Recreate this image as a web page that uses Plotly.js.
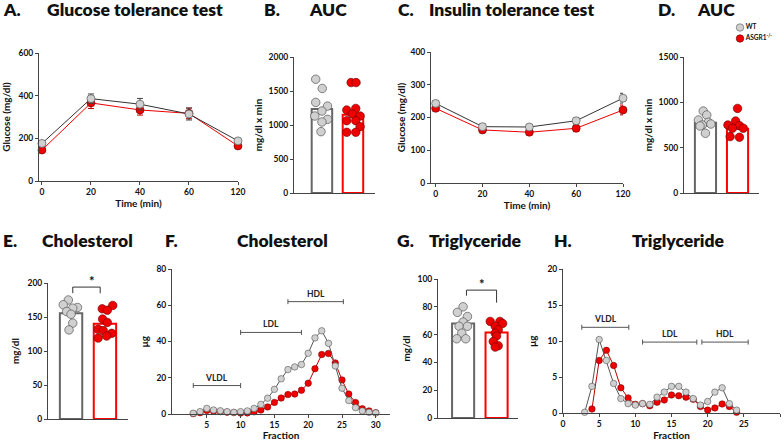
<!DOCTYPE html>
<html>
<head>
<meta charset="utf-8">
<script src="https://cdn.plot.ly/plotly-3.0.1.min.js"></script>
<style>html,body{margin:0;padding:0;background:#fff}#chart{width:784px;height:441px}</style>
</head>
<body>
<div id="chart"></div>
<script>
// ---------------- DATA ----------------
const groups = ['WT', 'ASGR1<sup>-/-</sup>'];
const times = ['0', '20', '40', '60', '120'];

const gttWt = [176, 386, 360, 314, 188];
const gttWtErr = [10, 22, 27, 28, 10];
const gttKo = [145, 366, 333, 317, 164];
const gttKoErr = [10, 26, 24, 25, 10];

const ittWt = [243, 172, 171, 190, 259];
const ittWtErr = [8, 8, 8, 8, 15];
const ittKo = [228, 162, 155, 167, 223];
const ittKoErr = [8, 8, 8, 10, 15];

const gttAucMean = [1234, 1150];
const gttAucWt = [1673, 1537, 1332, 1278, 1205, 1132, 1083, 1044, 902];
const gttAucWtJit = [-0.2, 0.01, -0.2, 0.18, 0, -0.23, 0.18, 0, -0.03];
const gttAucKo = [1624, 1624, 1244, 1220, 1161, 1132, 1063, 1063, 976, 893, 893];
const gttAucKoJit = [-0.06, 0.1, 0.09, -0.2, -0.02, 0.23, -0.2, 0.09, 0.23, -0.2, 0.09];

const ittAucMean = [776, 710];
const ittAucWt = [904, 860, 805, 780, 750, 761, 739, 659];
const ittAucWtJit = [-0.07, 0.04, -0.22, 0.09, -0.1, 0.17, -0.17, 0];
const ittAucKo = [933, 794, 750, 743, 714, 714, 622, 615];
const ittAucKoJit = [0, -0.06, -0.3, 0.06, 0.18, -0.16, -0.23, 0.06];

const cholMean = [155.5, 140];
const cholWt = [175, 168, 164, 163, 158, 154, 141, 131];
const cholWtJit = [-0.08, -0.23, 0.19, 0.05, -0.13, 0, 0.05, -0.06];
const cholKo = [167, 162, 160, 147, 142, 132, 130, 126, 122, 119];
const cholKoJit = [0.23, -0.08, 0.07, -0.07, 0.07, -0.2, -0.05, 0.2, 0.05, -0.2];

const tgMean = [68, 61.5];
const tgWt = [80, 76, 73, 69, 66, 66, 61, 57, 57];
const tgWtJit = [0, -0.17, 0.13, 0, -0.12, 0.13, -0.04, -0.19, 0.08];
const tgKo = [69.5, 69.5, 68, 66, 63.5, 61, 59, 55, 52, 51];
const tgKoJit = [-0.19, 0.1, 0.18, -0.04, 0.05, -0.04, 0, -0.1, 0.05, -0.04];

const cholFrac = [3,4,5,6,7,8,9,10,11,12,13,14,15,16,17,18,19,20,21,22,23,24,25,26,27,28,29,30];
const cholFracWt = [0.4,1.3,3.1,2.2,1.8,1.3,0.9,1.3,1.7,3.1,5.3,8.7,13.6,19.4,24.5,26,27.3,33.5,42,45.9,39,26.5,14.2,7.4,3.5,1.7,0.9,0.6];
const cholFracKo = [0.2,0.7,1.9,1.5,1.3,1.0,0.8,0.5,0.6,1.2,2.2,3.9,6.4,8.8,10.7,11,13.1,17,25,32.8,33.4,28.2,18.8,11,6.3,2.9,1.7,0.7];

const tgFracWtX = [3,4,5,6,7,8,9,10,11,12,13,14,15,16,17,18,19,20,21,22,23,24];
const tgFracWt = [0.1,3.7,10.2,7.3,4.1,2.0,1.3,1.1,1.3,1.2,2.2,2.9,3.7,3.7,2.9,2.0,1.1,1.6,2.9,3.5,1.3,0.4];
const tgFracKoX = [4,5,6,7,8,9,10,11,12,13,14,15,16,17,18,19,20,21,22,23,24];
const tgFracKo = [0.55,7.3,8.7,6.6,3.5,2.1,1.2,1.3,1.0,1.5,1.8,2.5,2.4,2.2,1.9,0.9,0.4,0.7,1.25,0.9,0.1];

const lipoLabels = ['VLDL', 'LDL', 'HDL'];
const cholRangeStart = [3, 10, 17];
const cholRangeEnd = [10, 19, 25.2];
const cholRangeLevel = [15.7, 45, 62];
const tgRangeStart = [2.6, 11, 19.2];
const tgRangeEnd = [9.1, 18.5, 25.6];
const tgRangeLevel = [11.9, 9.85, 9.85];

const panelLetters = ['A.', 'B.', 'C.', 'D.', 'E.', 'F.', 'G.', 'H.'];
const panelTitles = ['Glucose tolerance test', 'AUC', 'Insulin tolerance test', 'AUC',
                     'Cholesterol', 'Cholesterol', 'Triglyceride', 'Triglyceride'];

// ---------------- STYLE / LAYOUT ----------------
const W = 784, H = 441;
const FONT = 'Lato, "Open Sans", sans-serif';
const GREY = '#d0d0d0', GREY_LINE = '#555', RED = '#ee0000', RED_LINE = '#6a0000';
function xd(a, b) { return [a / W, b / W]; }
function yd(top, bot) { return [1 - bot / H, 1 - top / H]; }

const tickFont = {family: FONT, size: 8.5, color: '#111', weight: 'bold'};
const titleFont = {family: FONT, size: 10, color: '#111', weight: 'bold'};
const headFont = {family: FONT, size: 17.5, color: '#111', weight: 800};
function ax(extra) {
  return Object.assign({
    showgrid: false, zeroline: false, showline: true, linecolor: '#444', linewidth: 1,
    ticks: 'outside', ticklen: 3, tickwidth: 1, tickcolor: '#444', tickfont: tickFont,
    fixedrange: true
  }, extra);
}

const traces = [];
function addTimeCourse(xa, ya, wt, wtErr, ko, koErr) {
  traces.push({x: times, y: ko, xaxis: xa, yaxis: ya, type: 'scatter', mode: 'lines+markers',
    name: groups[1], showlegend: false, cliponaxis: false,
    line: {color: RED, width: 1},
    marker: {color: RED, size: 8, line: {color: RED_LINE, width: 0.6}},
    error_y: {type: 'data', array: koErr, visible: true, color: '#b00', thickness: 1, width: 3}});
  traces.push({x: times, y: wt, xaxis: xa, yaxis: ya, type: 'scatter', mode: 'lines+markers',
    name: groups[0], showlegend: false, cliponaxis: false,
    line: {color: '#333', width: 1},
    marker: {color: GREY, size: 8, line: {color: GREY_LINE, width: 0.7}},
    error_y: {type: 'data', array: wtErr, visible: true, color: '#444', thickness: 1, width: 3}});
}
function addBarPanel(xa, ya, means, wt, wtJ, ko, koJ) {
  traces.push({x: [0], y: [means[0]], xaxis: xa, yaxis: ya, type: 'bar', width: 0.66,
    marker: {color: 'rgba(255,255,255,0)', line: {color: '#666', width: 2}}, showlegend: false, name: groups[0]});
  traces.push({x: [1], y: [means[1]], xaxis: xa, yaxis: ya, type: 'bar', width: 0.66,
    marker: {color: 'rgba(255,255,255,0)', line: {color: '#ff0000', width: 2}}, showlegend: false, name: groups[1]});
  traces.push({x: wtJ.map(j => 0 + j), y: wt, xaxis: xa, yaxis: ya, type: 'scatter', mode: 'markers',
    marker: {color: GREY, size: 8.5, line: {color: GREY_LINE, width: 0.7}}, showlegend: false, cliponaxis: false, name: groups[0]});
  traces.push({x: koJ.map(j => 1 + j), y: ko, xaxis: xa, yaxis: ya, type: 'scatter', mode: 'markers',
    marker: {color: RED, size: 8.5, line: {color: RED_LINE, width: 0.6}}, showlegend: false, cliponaxis: false, name: groups[1]});
}
function addProfile(xa, ya, wx, wy, kx, ky) {
  traces.push({x: kx, y: ky, xaxis: xa, yaxis: ya, type: 'scatter', mode: 'lines+markers', showlegend: false, cliponaxis: false,
    name: groups[1], line: {color: '#c00000', width: 1}, marker: {color: RED, size: 6.5, line: {color: RED_LINE, width: 0.5}}});
  traces.push({x: wx, y: wy, xaxis: xa, yaxis: ya, type: 'scatter', mode: 'lines+markers', showlegend: false, cliponaxis: false,
    name: groups[0], line: {color: '#555', width: 1}, marker: {color: GREY, size: 6.5, line: {color: GREY_LINE, width: 0.6}}});
}

addTimeCourse('x', 'y', gttWt, gttWtErr, gttKo, gttKoErr);
addBarPanel('x2', 'y2', gttAucMean, gttAucWt, gttAucWtJit, gttAucKo, gttAucKoJit);
addTimeCourse('x3', 'y3', ittWt, ittWtErr, ittKo, ittKoErr);
addBarPanel('x4', 'y4', ittAucMean, ittAucWt, ittAucWtJit, ittAucKo, ittAucKoJit);
addBarPanel('x5', 'y5', cholMean, cholWt, cholWtJit, cholKo, cholKoJit);
addProfile('x6', 'y6', cholFrac, cholFracWt, cholFrac, cholFracKo);
addBarPanel('x7', 'y7', tgMean, tgWt, tgWtJit, tgKo, tgKoJit);
addProfile('x8', 'y8', tgFracWtX, tgFracWt, tgFracKoX, tgFracKo);

// legend as markers + text
traces.push({x: [0, 0], y: [1, 0], xaxis: 'x9', yaxis: 'y9', type: 'scatter', mode: 'markers+text',
  text: groups, textposition: 'middle right', cliponaxis: false, showlegend: false,
  textfont: {family: FONT, size: 6.5, color: '#111', weight: 'bold'},
  marker: {color: [GREY, RED], size: 7.5, line: {color: [GREY_LINE, RED_LINE], width: 0.6}}});

const shapes = [];
const annotations = [];
function addRanges(xa, ya, starts, ends, levels, cap) {
  for (let i = 0; i < starts.length; i++) {
    const ln = {color: '#555', width: 1};
    shapes.push({type: 'line', xref: xa, yref: ya, x0: starts[i], x1: ends[i], y0: levels[i], y1: levels[i], line: ln});
    [starts[i], ends[i]].forEach(xv => shapes.push({type: 'line', xref: xa, yref: ya, ysizemode: 'pixel',
      yanchor: levels[i], x0: xv, x1: xv, y0: -cap, y1: cap, line: ln}));
    annotations.push({xref: xa, yref: ya, x: (starts[i] + ends[i]) / 2, y: levels[i], yshift: 8,
      text: '<b>' + lipoLabels[i] + '</b>', showarrow: false, font: {family: FONT, size: 8.5, color: '#222'}});
  }
}
addRanges('x6', 'y6', cholRangeStart, cholRangeEnd, cholRangeLevel, 2.5);
addRanges('x8', 'y8', tgRangeStart, tgRangeEnd, tgRangeLevel, 2.5);

// significance brackets
shapes.push({type: 'path', xref: 'x5', yref: 'y5', path: 'M 0.05 185 L 0.05 194 L 0.86 194 L 0.86 185', line: {color: '#333', width: 1}});
shapes.push({type: 'path', xref: 'x7', yref: 'y7', path: 'M 0.1 88 L 0.1 92 L 1.0 92 L 1.0 83', line: {color: '#333', width: 1}});
annotations.push({xref: 'paper', yref: 'paper', x: 87 / W, y: 1 - 281 / H, text: '<b>*</b>', showarrow: false, font: {family: FONT, size: 13, color: '#111'}});
annotations.push({xref: 'paper', yref: 'paper', x: 482 / W, y: 1 - 284 / H, text: '<b>*</b>', showarrow: false, font: {family: FONT, size: 13, color: '#111'}});

// panel titles
const letterX = [1, 262, 396, 656, 1, 163, 395, 552];
const titleX = [135, 328, 512, 716, 87, 282, 475, 678];
const rowY = [10, 10, 10, 10, 240, 240, 240, 240];
for (let i = 0; i < 8; i++) {
  annotations.push({xref: 'paper', yref: 'paper', x: letterX[i] / W, y: 1 - rowY[i] / H, xanchor: 'left', yanchor: 'middle',
    text: panelLetters[i], showarrow: false, font: headFont});
  annotations.push({xref: 'paper', yref: 'paper', x: titleX[i] / W, y: 1 - rowY[i] / H, xanchor: 'center', yanchor: 'middle',
    text: panelTitles[i], showarrow: false, font: headFont});
}

const barX = (lo, hi) => ({range: [lo, hi], showticklabels: false, ticks: ''});

const layout = {
  width: W, height: H, margin: {l: 0, r: 0, t: 0, b: 0}, paper_bgcolor: '#fff', plot_bgcolor: 'rgba(0,0,0,0)',
  showlegend: false, barmode: 'overlay', font: {family: FONT},
  // A
  xaxis: ax({domain: xd(39, 238), anchor: 'y', type: 'category', categoryarray: times, range: [-0.06, 4.0],
    title: {text: 'Time (min)', font: titleFont, standoff: 3}}),
  yaxis: ax({domain: yd(53, 181), anchor: 'x', range: [0, 600], tickvals: [0, 200, 400, 600],
    title: {text: 'Glucose (mg/dl)', font: titleFont, standoff: 9}}),
  // B
  xaxis2: ax(Object.assign({domain: xd(294, 375), anchor: 'y2'}, barX(-0.9, 1.71))),
  yaxis2: ax({domain: yd(57, 193), anchor: 'x2', range: [0, 2000], tickvals: [0, 500, 1000, 1500, 2000],
    title: {text: 'mg/dl x min', font: titleFont, standoff: 4}}),
  // C
  xaxis3: ax({domain: xd(431, 623), anchor: 'y3', type: 'category', categoryarray: times, range: [-0.1, 4.0],
    title: {text: 'Time (min)', font: titleFont, standoff: 3}}),
  yaxis3: ax({domain: yd(52, 183), anchor: 'x3', range: [0, 400], tickvals: [0, 100, 200, 300, 400],
    title: {text: 'Glucose (mg/dl)', font: titleFont, standoff: 3}}),
  // D
  xaxis4: ax(Object.assign({domain: xd(684, 759), anchor: 'y4'}, barX(-0.67, 1.67))),
  yaxis4: ax({domain: yd(57, 193), anchor: 'x4', range: [0, 1500], tickvals: [0, 500, 1000, 1500],
    title: {text: 'mg/dl x min', font: titleFont, standoff: 4}}),
  // E
  xaxis5: ax(Object.assign({domain: xd(48, 128), anchor: 'y5'}, barX(-0.68, 1.68))),
  yaxis5: ax({domain: yd(283, 419), anchor: 'x5', range: [0, 200], tickvals: [0, 50, 100, 150, 200],
    title: {text: 'mg/dl', font: titleFont, standoff: 6}}),
  // F
  xaxis6: ax({domain: xd(172, 390), anchor: 'y6', range: [-0.15, 32.1], tickvals: [5, 10, 15, 20, 25, 30],
    title: {text: 'Fraction', font: titleFont, standoff: 4}}),
  yaxis6: ax({domain: yd(269, 414), anchor: 'x6', range: [0, 80], tickvals: [0, 20, 40, 60, 80],
    title: {text: 'μg', font: titleFont, standoff: 5}}),
  // G
  xaxis7: ax(Object.assign({domain: xd(438, 518), anchor: 'y7'}, barX(-0.75, 1.64))),
  yaxis7: ax({domain: yd(279, 418), anchor: 'x7', range: [0, 100], tickvals: [0, 20, 40, 60, 80, 100],
    title: {text: 'mg/dl', font: titleFont, standoff: 5}}),
  // H
  xaxis8: ax({domain: xd(563, 780), anchor: 'y8', range: [0, 30], tickvals: [0, 5, 10, 15, 20, 25, 30],
    title: {text: 'Fraction', font: titleFont, standoff: 4}}),
  yaxis8: ax({domain: yd(269, 413), anchor: 'x8', range: [0, 20], tickvals: [0, 5, 10, 15, 20],
    title: {text: 'μg', font: titleFont, standoff: 8}}),
  // legend box
  xaxis9: {domain: xd(735, 765), anchor: 'y9', range: [-1, 5], visible: false, fixedrange: true},
  yaxis9: {domain: yd(22, 44), anchor: 'x9', range: [-0.5, 1.5], visible: false, fixedrange: true},
  shapes: shapes,
  annotations: annotations
};

Plotly.newPlot('chart', traces, layout, {displayModeBar: false, staticPlot: true});
</script>
</body>
</html>
